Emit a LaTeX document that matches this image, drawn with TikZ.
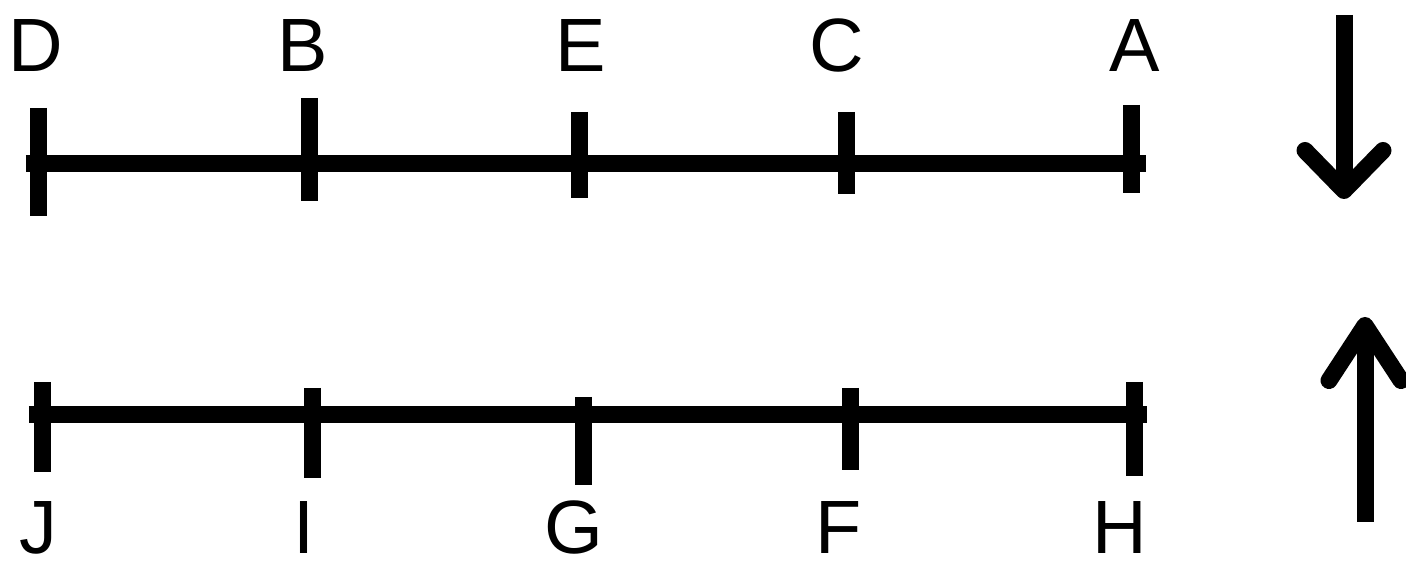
\documentclass[tikz,border=0pt]{standalone}
\usepackage{fontspec}
\setmainfont{Liberation Sans}
\usetikzlibrary{arrows.meta}

\begin{document}
\begin{tikzpicture}[
        axis/.style = {line width=0.17cm},
        tickmark/.style = {line width=0.17cm},
        pointname/.style = {anchor=base, inner sep=0pt, font=\fontsize{21.5}{24}\selectfont},
        arrow/.style = {line width=0.17cm, -{Straight Barb[length=0.4cm, width=0.78cm, line cap=round, line join=round]}}
        ]
        \useasboundingbox (0,0) rectangle (14.06,5.61);

        % upper row
        \coordinate (u0) at (0.26,3.97);
        \coordinate (u1) at (11.46,3.97);
        \draw[axis] (u0) -- (u1);
        \coordinate (Dt) at (0.38,4.53); \coordinate (Db) at (0.38,3.45);
        \coordinate (Bt) at (3.09,4.63); \coordinate (Bb) at (3.09,3.60);
        \coordinate (Et) at (5.79,4.49); \coordinate (Eb) at (5.79,3.63);
        \coordinate (Ct) at (8.46,4.49); \coordinate (Cb) at (8.46,3.67);
        \coordinate (At) at (11.31,4.56); \coordinate (Ab) at (11.31,3.68);
        \draw[tickmark] (Dt) -- (Db);
        \draw[tickmark] (Bt) -- (Bb);
        \draw[tickmark] (Et) -- (Eb);
        \draw[tickmark] (Ct) -- (Cb);
        \draw[tickmark] (At) -- (Ab);
        \node[pointname] (D) at (0.36,4.89) {D};
        \node[pointname] (B) at (3.03,4.89) {B};
        \node[pointname] (E) at (5.81,4.89) {E};
        \node[pointname] (C) at (8.37,4.89) {C};
        \node[pointname] (A) at (11.35,4.89) {A};

        % lower row
        \coordinate (l0) at (0.29,1.46);
        \coordinate (l1) at (11.47,1.46);
        \draw[axis] (l0) -- (l1);
        \coordinate (Jt) at (0.42,1.79); \coordinate (Jb) at (0.42,0.89);
        \coordinate (It) at (3.12,1.73); \coordinate (Ib) at (3.12,0.83);
        \coordinate (Gt) at (5.83,1.64); \coordinate (Gb) at (5.83,0.76);
        \coordinate (Ft) at (8.50,1.73); \coordinate (Fb) at (8.50,0.91);
        \coordinate (Ht) at (11.34,1.79); \coordinate (Hb) at (11.34,0.85);
        \draw[tickmark] (Jt) -- (Jb);
        \draw[tickmark] (It) -- (Ib);
        \draw[tickmark] (Gt) -- (Gb);
        \draw[tickmark] (Ft) -- (Fb);
        \draw[tickmark] (Ht) -- (Hb);
        \node[pointname] (J) at (0.38,0.07) {J};
        \node[pointname] (I) at (3.04,0.07) {I};
        \node[pointname] (G) at (5.74,0.07) {G};
        \node[pointname] (F) at (8.39,0.07) {F};
        \node[pointname] (H) at (11.20,0.07) {H};

        % direction arrows
        \coordinate (dtop) at (13.44,5.46);
        \coordinate (dtip) at (13.44,3.62);
        \draw[arrow] (dtop) -- (dtip);
        \coordinate (ubot) at (13.65,0.39);
        \coordinate (utip) at (13.65,2.44);
        \draw[arrow, -{Straight Barb[length=0.55cm, width=0.72cm, line cap=round, line join=round]}] (ubot) -- (utip);
\end{tikzpicture}
\end{document}
